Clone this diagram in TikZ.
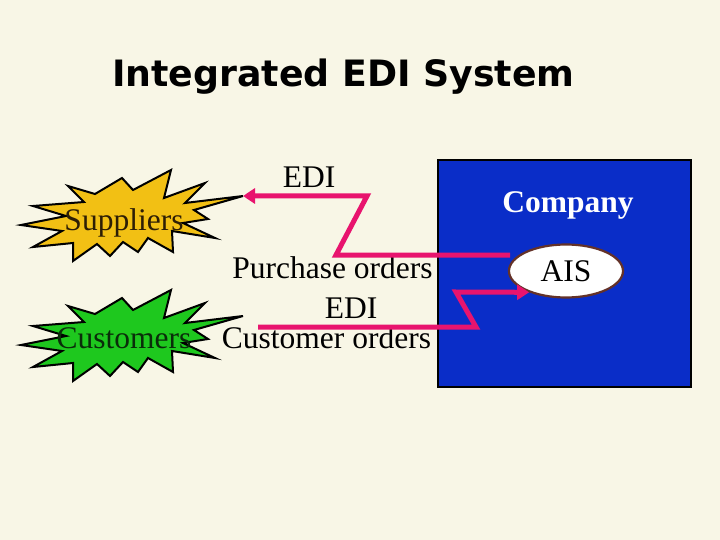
\documentclass[tikz,border=0pt]{standalone}
\usepackage{fontspec}
\setmainfont{Liberation Serif}
\newfontfamily\titlefont{DejaVu Sans}
\usetikzlibrary{arrows.meta,shapes.geometric}

\definecolor{paper}{RGB}{248,246,230}
\definecolor{compBlue}{RGB}{10,45,200}
\definecolor{ediPink}{RGB}{232,20,110}
\definecolor{supYellow}{RGB}{242,192,20}
\definecolor{custGreen}{RGB}{30,200,30}
\definecolor{aisBrown}{RGB}{100,50,40}

% starburst outline, #1 = shift down, #2 = fill, #3 = name
\newcommand\burst[3]{%
  \begin{scope}[shift={(0,#1)}]
    \draw[burst,fill=#2] (171,170) -- (164,198) -- (205,183) -- (185,203) -- (243,196)
      -- (194,210) -- (208,219) -- (183,223) -- (215,238) -- (172,231) -- (173,252)
      -- (148,238) -- (138,252) -- (123,242) -- (110,256) -- (97,244) -- (73,261)
      -- (73,243) -- (33,247) -- (62,231) -- (21,225) -- (66,216) -- (33,206)
      -- (84,202) -- (68,186) -- (95,194) -- (122,178) -- (133,190) -- cycle;
    \coordinate (#3-tip) at (243,196);
  \end{scope}}

\begin{document}
\begin{tikzpicture}[x=1pt,y=-1pt,
  every node/.style={font=\fontsize{31.5}{36}\selectfont,inner sep=0pt},
  burst/.style={draw=black,line width=2pt,line join=miter},
  edi/.style={draw=ediPink,line width=5pt,line join=miter,-{Triangle[length=12pt,width=15pt]}}]
\fill[paper] (0,0) rectangle (720,540);
\path[use as bounding box] (0,0) rectangle (720,540);

\node[anchor=base,font=\titlefont\bfseries\fontsize{36.3}{40}\selectfont] (title) at (343.5,87) {Integrated EDI System};

% company
\node[draw=black,line width=1.5pt,fill=compBlue,minimum width=253pt,minimum height=227pt] (company) at (564.5,273.5) {};
\node[anchor=base,text=white,font=\fontsize{31.5}{36}\selectfont\bfseries] (complabel) at (568,212) {Company};

% partners
\burst{0}{supYellow}{sup}
\burst{120}{custGreen}{cust}
\node[anchor=base,text={rgb,255:red,45;green,30;blue,5}] (suppliers) at (124,230) {Suppliers};
\node[anchor=base,text={rgb,255:red,10;green,45;blue,10}] (customers) at (124,348) {Customers};

% labels
\node[anchor=base] (edi1) at (309,188) {EDI};
\node[anchor=base] (purch) at (332.5,278) {Purchase orders};
\node[anchor=base] (edi2) at (351,318) {EDI};
\node[anchor=base] (custord) at (326.5,348) {Customer orders};

\node[ellipse,draw=aisBrown,line width=2.2pt,fill=white,minimum width=114pt,minimum height=53pt] (ais) at (566,271) {AIS};

\coordinate (po-start) at (510,255);
\coordinate (co-start) at (258,327);
\draw[edi] (po-start) -- (336,255) -- (367,196) -- (sup-tip);
\draw[edi] (co-start) -- (476,327) -- (456,292) -- (ais.210);
\end{tikzpicture}
\end{document}
